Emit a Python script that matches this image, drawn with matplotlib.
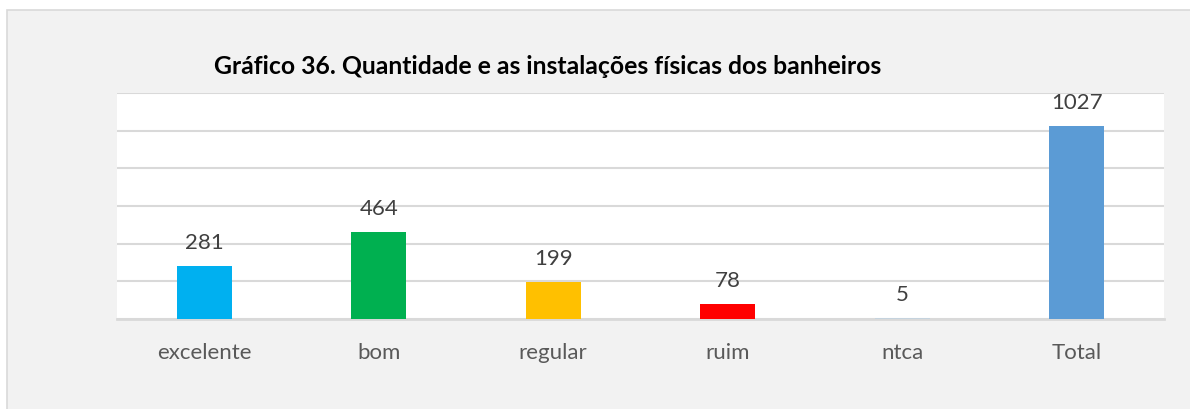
import matplotlib.pyplot as plt
from matplotlib.patches import Rectangle

categorias = ["excelente", "bom", "regular", "ruim", "ntca", "Total"]
valores = [281, 464, 199, 78, 5, 1027]
cores = ["#00b0f0", "#00b050", "#ffc000", "#ff0000", "#c5d3de", "#5b9bd5"]

W, H = 1190, 410
fig = plt.figure(figsize=(W / 100, H / 100), dpi=100)
fig.patch.set_facecolor("white")

# moldura cinza do gráfico
fig.patches.append(Rectangle((7 / W, -0.05), 1.1, (H - 11) / H + 0.05,
                             transform=fig.transFigure, facecolor="#f2f2f2",
                             edgecolor="#d9d9d9", lw=1.2, zorder=-1))

ax = fig.add_axes([117 / W, 1 - 320 / H, (1164 - 117) / W, (320 - 94) / H])
ax.set_facecolor("white")

x = range(len(categorias))
barras = ax.bar(x, valores, width=0.315, color=cores, zorder=3)

ax.set_ylim(0, 1200)
ax.set_xlim(-0.5, len(categorias) - 0.5)
ax.set_yticks(range(0, 1201, 200))
ax.yaxis.grid(True, color="#d9d9d9", lw=1.5, zorder=0)
ax.tick_params(axis="y", left=False, labelleft=False)
ax.tick_params(axis="x", bottom=False, pad=13)
ax.set_xticks(list(x))
ax.set_xticklabels(categorias, fontsize=16, color="#595959", family="Lato")
for lado in ["top", "right", "left"]:
    ax.spines[lado].set_visible(False)
ax.spines["bottom"].set_color("#d9d9d9")
ax.spines["bottom"].set_linewidth(2)

for b, v in zip(barras, valores):
    ax.annotate(str(v), (b.get_x() + b.get_width() / 2, v),
                xytext=(0, 10), textcoords="offset points",
                ha="center", va="bottom", fontsize=16, color="#404040",
                family="Lato")

fig.text(548 / W, 1 - 67 / H,
         "Gráfico 36. Quantidade e as instalações físicas dos banheiros",
         ha="center", va="center", fontsize=17.8, fontweight="bold",
         family="Lato", color="black")

plt.savefig("out.png", dpi=100)
